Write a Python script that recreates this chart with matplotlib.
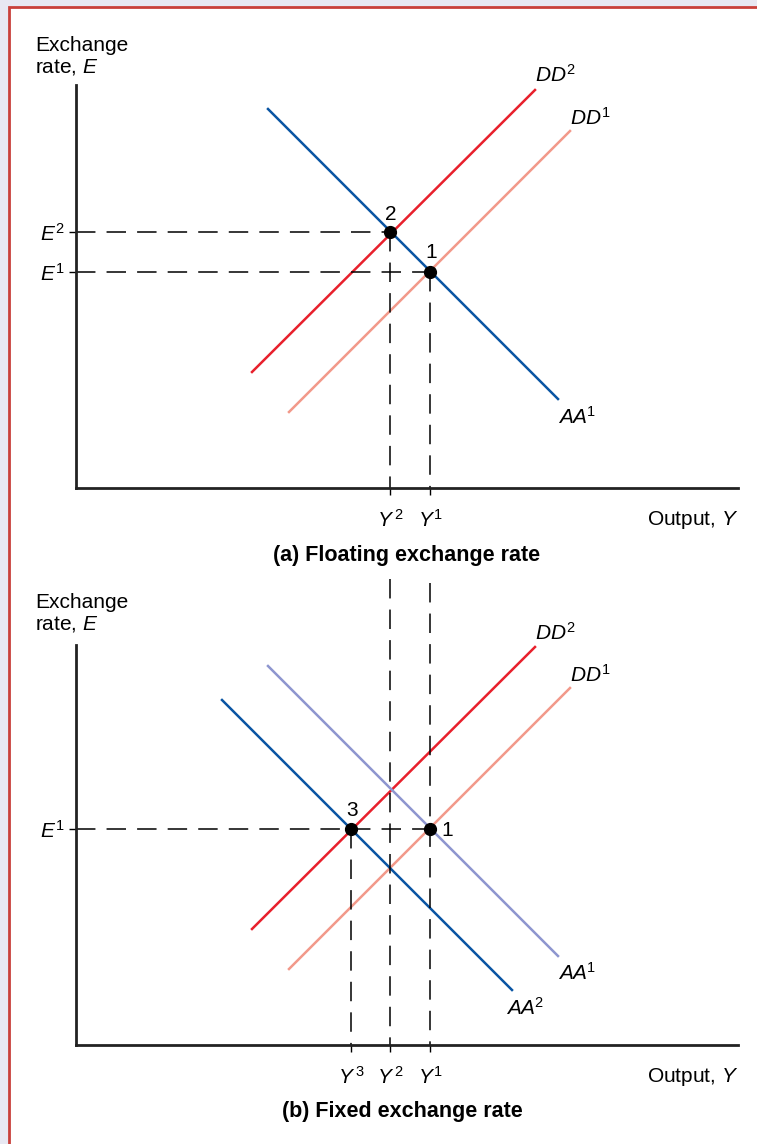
import matplotlib.pyplot as plt
from matplotlib.patches import Rectangle

plt.rcParams['font.family'] = ['Liberation Sans', 'DejaVu Sans']
plt.rcParams['mathtext.fontset'] = 'custom'
plt.rcParams['mathtext.rm'] = 'Liberation Sans'
plt.rcParams['mathtext.it'] = 'Liberation Sans:italic'
plt.rcParams['mathtext.bf'] = 'Liberation Sans:bold'
plt.rcParams['lines.scale_dashes'] = False

# schedule endpoints (output, exchange rate) in diagram units
aa1_x, aa1_y = [192, 482], [379, 89]
aa2_x, aa2_y = [146, 436], [345, 55]
dd2_x, dd2_y = [176, 459], [116, 398]
dd1_x, dd1_y = [213, 494], [76, 357]

# equilibrium levels
Y3, Y2, Y1 = 275, 314, 354
E1, E2 = 216, 256

# colours
c_blue = '#0a55a3'
c_red = '#e8202c'
c_salmon = '#f2998a'
c_lilac = '#8e96cf'

W, H = 757, 1144
fig = plt.figure(figsize=(W / 100, H / 100), dpi=100)
fig.patch.set_facecolor('#e8e8f2')
fig.patches.append(Rectangle((9 / W, -0.05), 1.1, 0.05 + (H - 7) / H,
                             transform=fig.transFigure, facecolor='white',
                             edgecolor='#c9403a', linewidth=2.0, zorder=-10))

lw = 1.8
fs = 15
dash = dict(color='black', linewidth=1.1, linestyle=(0, (14, 8)))


def setup(ax, top):
    ax.set_facecolor('none')
    ax.set_xlim(0, 662)
    ax.set_ylim(0, top)
    for s in ['top', 'right']:
        ax.spines[s].set_visible(False)
    for s in ['left', 'bottom']:
        ax.spines[s].set_linewidth(2.0)
        ax.spines[s].set_color('#222222')
    ax.tick_params(direction='out', length=5, width=1.0, labelsize=fs)
    ax.tick_params(axis='x', pad=10)
    ax.tick_params(axis='y', pad=3)
    ax.text(-41, 452, 'Exchange\nrate, $\\mathit{E}$', fontsize=fs,
            ha='left', va='top', linespacing=1.1, clip_on=False)
    ax.text(662, -32, 'Output, $\\mathit{Y}$', fontsize=fs,
            ha='right', va='center', clip_on=False)


# (a) floating exchange rate
ax1 = fig.add_axes([76 / W, (H - 488) / H, 662 / W, 403 / H])
setup(ax1, 403)
ax1.plot(dd1_x, dd1_y, color=c_salmon, lw=lw)
ax1.plot(dd2_x, dd2_y, color=c_red, lw=lw)
ax1.plot(aa1_x, aa1_y, color=c_blue, lw=lw)
ax1.plot([0, Y2], [E2, E2], **dash)
ax1.plot([0, Y1], [E1, E1], **dash)
ax1.plot([Y2, Y2], [E2, 0], **dash)
ax1.plot([Y1, Y1], [E1, 0], **dash)
ax1.plot([Y2, Y1], [E2, E1], 'o', color='black', markersize=8.5, zorder=5)
ax1.set_xticks([Y2, Y1], ['$\\mathit{Y}^{\\,2}$', '$\\mathit{Y}^{1}$'])
ax1.set_yticks([E2, E1], ['$\\mathit{E}^{2}$', '$\\mathit{E}^{1}$'])
ax1.text(Y2 + 1, E2 + 18, '2', fontsize=fs, ha='center', va='center')
ax1.text(Y1 + 1, E1 + 19, '1', fontsize=fs, ha='center', va='center')
ax1.text(479, 413, '$\\mathit{DD}^{2}$', fontsize=fs, ha='center', va='center', clip_on=False)
ax1.text(514, 370, '$\\mathit{DD}^{1}$', fontsize=fs, ha='center', va='center')
ax1.text(501, 71, '$\\mathit{AA}^{\\!1}$', fontsize=fs, ha='center', va='center')
ax1.text(331, -67, '(a) Floating exchange rate', fontsize=15.5, fontweight='bold',
         ha='center', va='center', clip_on=False)

# (b) fixed exchange rate
ax2 = fig.add_axes([76 / W, (H - 1045) / H, 662 / W, 400 / H])
setup(ax2, 400)
ax2.plot(dd1_x, dd1_y, color=c_salmon, lw=lw)
ax2.plot(dd2_x, dd2_y, color=c_red, lw=lw)
ax2.plot(aa1_x, aa1_y, color=c_lilac, lw=lw)
ax2.plot(aa2_x, aa2_y, color=c_blue, lw=lw)
ax2.plot([0, Y1], [E1, E1], **dash)
ax2.plot([Y2, Y2], [466, 0], clip_on=False, **dash)
ax2.plot([Y1, Y1], [462, 0], clip_on=False, **dash)
ax2.plot([Y3, Y3], [E1, 0], **dash)
ax2.plot([Y3, Y1], [E1, E1], 'o', color='black', markersize=8.5, zorder=5)
ax2.set_xticks([Y3, Y2, Y1], ['$\\mathit{Y}^{\\,3}$', '$\\mathit{Y}^{\\,2}$', '$\\mathit{Y}^{1}$'])
ax2.set_yticks([E1], ['$\\mathit{E}^{1}$'])
ax2.text(Y3 + 1, E1 + 18, '3', fontsize=fs, ha='center', va='center')
ax2.text(Y1 + 17, E1 - 2, '1', fontsize=fs, ha='center', va='center')
ax2.text(479, 412, '$\\mathit{DD}^{2}$', fontsize=fs, ha='center', va='center', clip_on=False)
ax2.text(514, 370, '$\\mathit{DD}^{1}$', fontsize=fs, ha='center', va='center')
ax2.text(501, 72, '$\\mathit{AA}^{\\!1}$', fontsize=fs, ha='center', va='center')
ax2.text(449, 37, '$\\mathit{AA}^{\\!2}$', fontsize=fs, ha='center', va='center')
ax2.text(326, -67, '(b) Fixed exchange rate', fontsize=15.5, fontweight='bold',
         ha='center', va='center', clip_on=False)

fig.savefig('out.png', dpi=100, facecolor=fig.get_facecolor())
